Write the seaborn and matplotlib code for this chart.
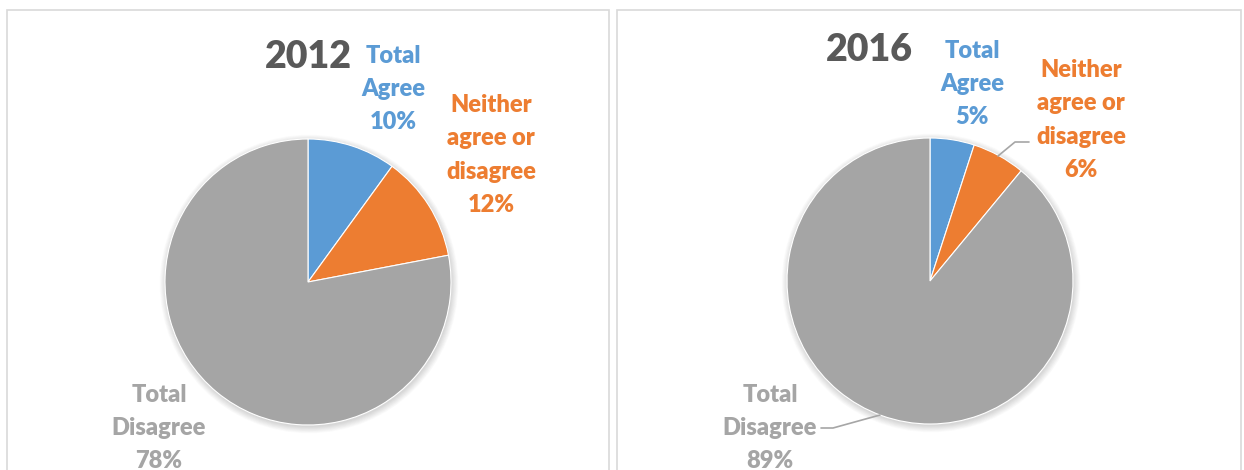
import matplotlib
matplotlib.use("Agg")
import matplotlib.pyplot as plt
from matplotlib.patches import Rectangle, Circle
import seaborn as sns

# Survey shares per response category
categories = ["Total Agree", "Neither agree or disagree", "Total Disagree"]
category_lines = ["Total\nAgree", "Neither\nagree or\ndisagree", "Total\nDisagree"]
years = ["2012", "2016"]
share_2012 = [10, 12, 78]
share_2016 = [5, 6, 89]
shares = [share_2012, share_2016]

sns.set_theme(style="white")
plt.rcParams["font.family"] = ["Lato", "DejaVu Sans"]

palette = ["#5B9BD5", "#ED7D31", "#A5A5A5"]
label_colors = ["#5B9BD5", "#ED7D31", "#A5A5A5"]
title_color = "#595959"

W, H = 1244, 470
fig = plt.figure(figsize=(W / 100, H / 100), dpi=100)
ax = fig.add_axes([0, 0, 1, 1])


def py(y):
    """Convert a top-down pixel row to the axes' bottom-up y value."""
    return H - y


# panel frames
panels = [(7, 10, 609), (617, 10, 1241)]
for x0, y0, x1 in panels:
    ax.add_patch(Rectangle((x0, py(y0) - 500), x1 - x0, 500, fill=False,
                           ec="#D9D9D9", lw=1.2, zorder=1))

pie_centers = [(308, 282), (930, 281)]
radius = 143
title_pos = [(308, 57), (869, 50)]
label_pos = [
    [(393, 89), (491, 155), (159, 428)],
    [(972, 84), (1081, 120), (770, 428)],
]

for i, (vals, (cx, cy)) in enumerate(zip(shares, pie_centers)):
    # soft drop shadow under the pie
    for k in range(10):
        ax.add_patch(Circle((cx + 1, py(cy) - 2), radius + 0.7 * k,
                            fc="black", alpha=0.014, lw=0, zorder=2))
    ax.pie(vals, colors=palette, startangle=90, counterclock=False,
           center=(cx, py(cy)), radius=radius, frame=True,
           wedgeprops=dict(edgecolor="white", linewidth=0.8, zorder=3))
    ax.text(title_pos[i][0], py(title_pos[i][1]), years[i], ha="center",
            va="center", fontsize=27, fontweight="heavy", color=title_color)
    for j, v in enumerate(vals):
        lx, ly = label_pos[i][j]
        ax.text(lx, py(ly), f"{category_lines[j]}\n{v}%", ha="center",
                va="center", ma="center", fontsize=17, fontweight="heavy",
                color=label_colors[j], linespacing=1.62, zorder=5)

# leader lines for the 2016 labels
ax.plot([1029, 1015, 998], [py(142), py(142), py(156)], color="#A6A6A6",
        lw=1.2, zorder=4)
ax.plot([821, 833, 880], [py(428), py(428), py(415)], color="#A6A6A6",
        lw=1.2, zorder=4)

ax.set_xlim(0, W)
ax.set_ylim(0, H)
ax.set_aspect("equal")
ax.axis("off")

fig.savefig("out.png", dpi=100, facecolor="white")
